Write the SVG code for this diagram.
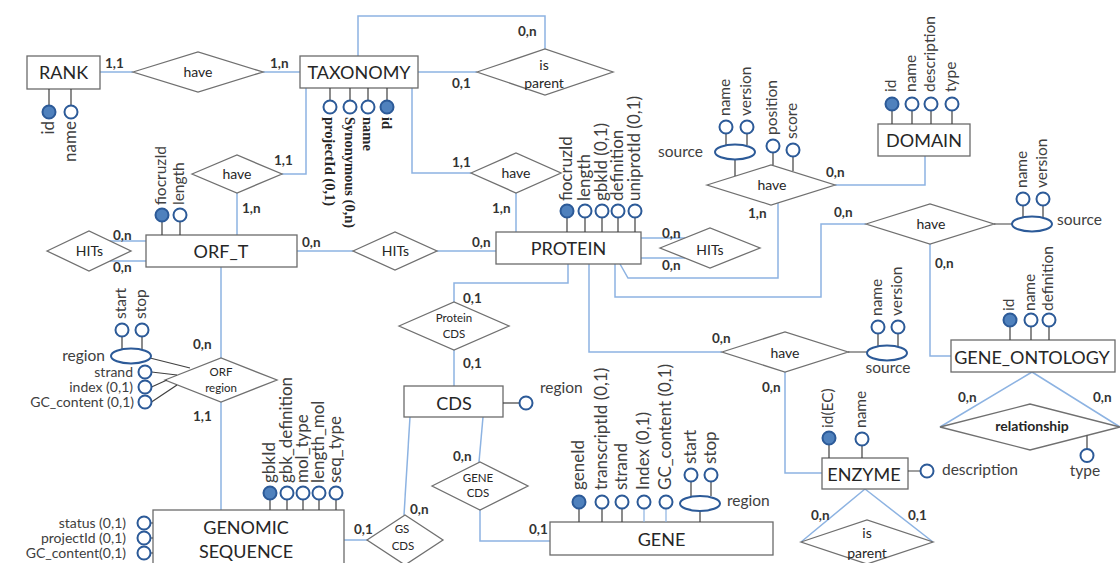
<svg xmlns="http://www.w3.org/2000/svg" width="1120" height="563" viewBox="0 0 1120 563">
<style>
  text { font-family: Lato, "Liberation Sans", sans-serif; fill: #262626; }
  .ent { fill: #fff; stroke: #6b6b6b; stroke-width: 1.3; }
  .rel { fill: #fff; stroke: #707070; stroke-width: 1.3; }
  .conn { fill: none; stroke: #8db3e2; stroke-width: 1.5; }
  .stem { fill: none; stroke: #404040; stroke-width: 1.2; }
  .stemb { fill: none; stroke: #8db3e2; stroke-width: 1.2; }
  .att { fill: #fff; stroke: #2c5a98; stroke-width: 2; }
  .key { fill: #4f81bd; stroke: #2c5a98; stroke-width: 2; }
  .en { font-size: 18px; text-anchor: middle; }
  .rn { font-size: 14px; text-anchor: middle; }
  .rs { font-size: 11.5px; text-anchor: middle; }
  .rb { font-size: 14px; font-weight: bold; text-anchor: middle; }
  .card { font-size: 13.5px; font-weight: bold; fill: #333; }
  .at { font-size: 15.5px; fill: #404040; }
  .al { font-size: 17px; fill: #404040; }
  .as { font-size: 14px; fill: #404040; text-anchor: end; }
  .end { text-anchor: end; }
  .mid { text-anchor: middle; }
  .tx { font-family: "Liberation Serif", serif; font-weight: bold; font-size: 14.5px; fill: #262626; }
</style>

<rect width="1120" height="563" fill="#fff"/>

<!-- connectors between entities and relationships -->
<g id="connectors">
  <path class="conn" d="M100,72 H133"/>
  <path class="conn" d="M263,72 H300"/>
  <path class="conn" d="M418,72 H477"/>
  <path class="conn" d="M358,56 V16 H545 V49"/>
  <path class="conn" d="M306,88 V174 H282"/>
  <path class="conn" d="M237,193 V235"/>
  <path class="conn" d="M412,88 V173 H471"/>
  <path class="conn" d="M516,193 V232"/>
  <path class="conn" d="M297,251 H353"/>
  <path class="conn" d="M437,251 H496"/>
  <path class="conn" d="M146,241 H110"/>
  <path class="conn" d="M146,261 H110"/>
  <path class="conn" d="M641,238 H685"/>
  <path class="conn" d="M641,258 H685"/>
  <path class="conn" d="M620,264 L628,278 H778 V203"/>
  <path class="conn" d="M835,185 H925 V156"/>
  <path class="conn" d="M615,264 V297 H821 V224 H866"/>
  <path class="conn" d="M930,244 V356 H951"/>
  <path class="conn" d="M589,264 V352 H722"/>
  <path class="conn" d="M785,372 V473 H822"/>
  <path class="conn" d="M568,264 V283 H454 V302"/>
  <path class="conn" d="M454,350 V386"/>
  <path class="conn" d="M483,417 L479,462"/>
  <path class="conn" d="M480,510 V541 H550"/>
  <path class="conn" d="M410,417 L404,515"/>
  <path class="conn" d="M344,540 H367"/>
  <path class="conn" d="M221,267 V358"/>
  <path class="conn" d="M221,402 V510"/>
  <path class="conn" d="M1032,372 L940,427 M1032,372 L1120,427"/>
  <path class="conn" d="M865,489 L801,542 M865,489 L933,542"/>
</g>

<!-- cardinalities -->
<g id="cardinalities">
  <text class="card" x="105" y="68">1,1</text>
  <text class="card" x="270" y="68">1,n</text>
  <text class="card" x="518" y="36">0,n</text>
  <text class="card" x="452" y="88">0,1</text>
  <text class="card" x="274" y="165">1,1</text>
  <text class="card" x="242" y="213">1,n</text>
  <text class="card" x="452" y="167">1,1</text>
  <text class="card" x="492" y="213">1,n</text>
  <text class="card" x="113" y="240">0,n</text>
  <text class="card" x="113" y="272">0,n</text>
  <text class="card" x="302" y="247">0,n</text>
  <text class="card" x="472" y="247">0,n</text>
  <text class="card" x="662" y="238">0,n</text>
  <text class="card" x="662" y="270">0,n</text>
  <text class="card" x="748" y="218">1,n</text>
  <text class="card" x="826" y="177">0,n</text>
  <text class="card" x="834" y="217">0,n</text>
  <text class="card" x="935" y="268">0,n</text>
  <text class="card" x="712" y="343">0,n</text>
  <text class="card" x="762" y="392">0,n</text>
  <text class="card" x="463" y="303">0,1</text>
  <text class="card" x="463" y="368">0,1</text>
  <text class="card" x="193" y="349">0,n</text>
  <text class="card" x="193" y="421">1,1</text>
  <text class="card" x="453" y="461">0,n</text>
  <text class="card" x="529" y="534">0,1</text>
  <text class="card" x="410" y="514">0,n</text>
  <text class="card" x="354" y="534">0,1</text>
  <text class="card" x="958" y="402">0,n</text>
  <text class="card" x="1093" y="402">0,n</text>
  <text class="card" x="811" y="520">0,n</text>
  <text class="card" x="908" y="520">0,1</text>
</g>

<!-- entities -->
<g id="rank">
  <rect class="ent" x="27" y="56" width="73" height="33"/>
  <text class="en" x="63.5" y="79">RANK</text>
  <path class="stem" d="M49,89 V105.5 M71,89 V105.5"/>
  <circle class="key" cx="49" cy="112" r="6.5"/>
  <circle class="att" cx="71" cy="112" r="6.5"/>
  <text class="al end" transform="translate(54,121) rotate(-90)">id</text>
  <text class="al end" transform="translate(76,121) rotate(-90)">name</text>
</g>

<g id="taxonomy">
  <rect class="ent" x="300" y="56" width="118" height="32"/>
  <text class="en" x="359" y="79">TAXONOMY</text>
  <path class="stem" d="M330,88 V100.5 M350,88 V100.5 M368,88 V100.5 M387,88 V100.5"/>
  <circle class="att" cx="330" cy="107" r="6.5"/>
  <circle class="att" cx="350" cy="107" r="6.5"/>
  <circle class="att" cx="368" cy="107" r="6.5"/>
  <circle class="key" cx="387" cy="107" r="6.5"/>
  <text class="tx" transform="translate(325,117) rotate(90)">projectId (0,1)</text>
  <text class="tx" transform="translate(345,117) rotate(90)">Synonymous (0,n)</text>
  <text class="tx" transform="translate(363,117) rotate(90)">name</text>
  <text class="tx" transform="translate(382,117) rotate(90)">id</text>
</g>

<g id="domain">
  <rect class="ent" x="878" y="124" width="92" height="32"/>
  <text class="en" x="924" y="147">DOMAIN</text>
  <path class="stem" d="M892,110.5 V124 M912,110.5 V124 M931,110.5 V124 M952,110.5 V124"/>
  <circle class="key" cx="892" cy="104" r="6.5"/>
  <circle class="att" cx="912" cy="104" r="6.5"/>
  <circle class="att" cx="931" cy="104" r="6.5"/>
  <circle class="att" cx="952" cy="104" r="6.5"/>
  <text class="at" transform="translate(896,92) rotate(-90)">id</text>
  <text class="at" transform="translate(916,92) rotate(-90)">name</text>
  <text class="at" transform="translate(935,92) rotate(-90)">description</text>
  <text class="at" transform="translate(956,92) rotate(-90)">type</text>
</g>

<g id="orf_t">
  <rect class="ent" x="146" y="235" width="151" height="32"/>
  <text class="en" x="221" y="258">ORF_T</text>
  <path class="stem" d="M162,221.5 V235 M180,221.5 V235"/>
  <circle class="key" cx="162" cy="215" r="6.5"/>
  <circle class="att" cx="180" cy="215" r="6.5"/>
  <text class="at" transform="translate(166,205) rotate(-90)">fiocruzId</text>
  <text class="at" transform="translate(184,205) rotate(-90)">length</text>
</g>

<g id="protein">
  <rect class="ent" x="496" y="232" width="145" height="32"/>
  <text class="en" x="568.5" y="255">PROTEIN</text>
  <path class="stem" d="M567,217.5 V232 M585,217.5 V232 M602,217.5 V232 M618,217.5 V232 M635,217.5 V232"/>
  <circle class="key" cx="567" cy="211" r="6.5"/>
  <circle class="att" cx="585" cy="211" r="6.5"/>
  <circle class="att" cx="602" cy="211" r="6.5"/>
  <circle class="att" cx="618" cy="211" r="6.5"/>
  <circle class="att" cx="635" cy="211" r="6.5"/>
  <text class="al" transform="translate(572,201) rotate(-90)">fiocruzId</text>
  <text class="al" transform="translate(590,201) rotate(-90)">length</text>
  <text class="al" transform="translate(607,201) rotate(-90)">gbkId (0,1)</text>
  <text class="al" transform="translate(623,201) rotate(-90)">definition</text>
  <text class="al" transform="translate(640,201) rotate(-90)">uniprotId (0,1)</text>
</g>

<g id="cds">
  <rect class="ent" x="404" y="386" width="99" height="31"/>
  <text class="en" x="454" y="410">CDS</text>
  <path class="stem" d="M503,403 H519.5"/>
  <circle class="att" cx="526" cy="403" r="6.5"/>
  <text class="at" x="540" y="393">region</text>
</g>

<g id="gene_ontology">
  <rect class="ent" x="951" y="340" width="164" height="32"/>
  <text class="en" x="1032" y="364">GENE_ONTOLOGY</text>
  <path class="stem" d="M1010,326.5 V340 M1031,326.5 V340 M1049,326.5 V340"/>
  <circle class="key" cx="1010" cy="320" r="6.5"/>
  <circle class="att" cx="1031" cy="320" r="6.5"/>
  <circle class="att" cx="1049" cy="320" r="6.5"/>
  <text class="at" transform="translate(1014,311) rotate(-90)">id</text>
  <text class="at" transform="translate(1035,311) rotate(-90)">name</text>
  <text class="at" transform="translate(1053,311) rotate(-90)">definition</text>
</g>

<g id="enzyme">
  <rect class="ent" x="822" y="458" width="86" height="31"/>
  <text class="en" x="864" y="481">ENZYME</text>
  <path class="stem" d="M829,444.5 V458 M862,445.5 V458 M908,471 H920.5"/>
  <circle class="key" cx="829" cy="438" r="6.5"/>
  <circle class="att" cx="862" cy="439" r="6.5"/>
  <circle class="att" cx="927" cy="471" r="6.5"/>
  <text class="at" transform="translate(833,428) rotate(-90)">id(EC)</text>
  <text class="at" transform="translate(866,428) rotate(-90)">name</text>
  <text class="at" x="942" y="475">description</text>
</g>

<g id="gene">
  <rect class="ent" x="550" y="522" width="223" height="33"/>
  <text class="en" x="661.5" y="546">GENE</text>
  <path class="stem" d="M579,508.5 V522 M602,508.5 V522 M622,508.5 V522 M700,511 V522 M691,481.5 V496 M711,481.5 V496"/>
  <path class="stemb" d="M644,508.5 V522 M666,508.5 V522"/>
  <circle class="key" cx="579" cy="502" r="6.5"/>
  <circle class="att" cx="602" cy="502" r="6.5"/>
  <circle class="att" cx="622" cy="502" r="6.5"/>
  <circle class="att" cx="644" cy="502" r="6.5"/>
  <circle class="att" cx="666" cy="502" r="6.5"/>
  <ellipse class="att" cx="700" cy="503.5" rx="20" ry="7.5"/>
  <circle class="att" cx="691" cy="475" r="6.5"/>
  <circle class="att" cx="711" cy="475" r="6.5"/>
  <text class="al" transform="translate(584,490) rotate(-90)">geneId</text>
  <text class="al" transform="translate(607,490) rotate(-90)">transcriptId (0,1)</text>
  <text class="al" transform="translate(627,490) rotate(-90)">strand</text>
  <text class="al" transform="translate(649,490) rotate(-90)">Index (0,1)</text>
  <text class="al" transform="translate(671,490) rotate(-90)">GC_content (0,1)</text>
  <text class="al" transform="translate(696,464) rotate(-90)">start</text>
  <text class="al" transform="translate(716,464) rotate(-90)">stop</text>
  <text class="at" x="727" y="506">region</text>
</g>

<g id="genomic_sequence">
  <rect class="ent" x="153" y="510" width="191" height="62"/>
  <text class="en" x="246" y="534">GENOMIC</text>
  <text class="en" x="246" y="558">SEQUENCE</text>
  <path class="stem" d="M270,499.5 V510 M287,499.5 V510 M303,499.5 V510 M319,499.5 V510 M336,499.5 V510"/>
  <circle class="key" cx="270" cy="493" r="6.5"/>
  <circle class="att" cx="287" cy="493" r="6.5"/>
  <circle class="att" cx="303" cy="493" r="6.5"/>
  <circle class="att" cx="319" cy="493" r="6.5"/>
  <circle class="att" cx="336" cy="493" r="6.5"/>
  <text class="al" transform="translate(275,483) rotate(-90)">gbkId</text>
  <text class="al" transform="translate(292,483) rotate(-90)">gbk_definition</text>
  <text class="al" transform="translate(308,483) rotate(-90)">mol_type</text>
  <text class="al" transform="translate(324,483) rotate(-90)">length_mol</text>
  <text class="al" transform="translate(341,483) rotate(-90)">seq_type</text>
  <path class="stem" d="M150.5,523 H153 M150.5,538 H153 M150.5,553 H153"/>
  <circle class="att" cx="144" cy="523" r="6.5"/>
  <circle class="att" cx="144" cy="538" r="6.5"/>
  <circle class="att" cx="144" cy="553" r="6.5"/>
  <text class="as" x="126" y="528">status (0,1)</text>
  <text class="as" x="126" y="543">projectId (0,1)</text>
  <text class="as" x="126" y="558">GC_content(0,1)</text>
</g>

<!-- relationships -->
<g id="have_rank_taxonomy">
  <polygon class="rel" points="133,72 198,52 263,72 198,92"/>
  <text class="rn" x="198" y="77">have</text>
</g>

<g id="taxonomy_is_parent">
  <polygon class="rel" points="477,72 545,49 613,72 545,95"/>
  <text class="rn" x="544" y="70">is</text>
  <text class="rn" x="544" y="88">parent</text>
</g>

<g id="have_taxonomy_orf">
  <polygon class="rel" points="192,174 237,155 282,174 237,193"/>
  <text class="rn" x="237" y="179">have</text>
</g>

<g id="have_taxonomy_protein">
  <polygon class="rel" points="471,173 516,153 561,173 516,193"/>
  <text class="rn" x="516" y="178">have</text>
</g>

<g id="hits_orf">
  <polygon class="rel" points="47,251 89,231 131,251 89,271"/>
  <text class="rn" x="89.5" y="256">HITs</text>
</g>

<g id="hits_orf_protein">
  <polygon class="rel" points="353,251 395,232 437,251 395,270"/>
  <text class="rn" x="395.5" y="256">HITs</text>
</g>

<g id="hits_protein">
  <polygon class="rel" points="660,248 710,228 760,248 710,268"/>
  <text class="rn" x="710" y="255">HITs</text>
</g>

<g id="have_protein_domain">
  <polygon class="rel" points="707,185 771,165 835,185 771,205"/>
  <text class="rn" x="772" y="190">have</text>
  <path class="stem" d="M735,159.5 V176 M773,152.5 V165 M793,156.5 V171 M726,133.5 V145 M747,133.5 V145"/>
  <ellipse class="att" cx="735" cy="152" rx="20" ry="7.5"/>
  <circle class="att" cx="726" cy="127" r="6.5"/>
  <circle class="att" cx="747" cy="127" r="6.5"/>
  <circle class="att" cx="773" cy="146" r="6.5"/>
  <circle class="att" cx="793" cy="150" r="6.5"/>
  <text class="at" transform="translate(730,116) rotate(-90)">name</text>
  <text class="at" transform="translate(751,116) rotate(-90)">version</text>
  <text class="at" transform="translate(777,135) rotate(-90)">position</text>
  <text class="at" transform="translate(797,139) rotate(-90)">score</text>
  <text class="at end" x="703" y="157">source</text>
</g>

<g id="have_protein_go">
  <polygon class="rel" points="866,224 930,204 994,224 930,244"/>
  <text class="rn" x="931" y="229">have</text>
  <path class="stem" d="M994,224 H1012 M1023,205.5 V217 M1043,205.5 V217"/>
  <ellipse class="att" cx="1032" cy="224" rx="20" ry="7.5"/>
  <circle class="att" cx="1023" cy="199" r="6.5"/>
  <circle class="att" cx="1043" cy="199" r="6.5"/>
  <text class="at" transform="translate(1027,188) rotate(-90)">name</text>
  <text class="at" transform="translate(1047,188) rotate(-90)">version</text>
  <text class="at" x="1057" y="225">source</text>
</g>

<g id="have_protein_enzyme">
  <polygon class="rel" points="722,352 785,332 848,352 785,372"/>
  <text class="rn" x="785" y="358">have</text>
  <path class="stem" d="M848,352 H867 M878,333.5 V346 M898,333.5 V346"/>
  <ellipse class="att" cx="887" cy="353" rx="20" ry="7.5"/>
  <circle class="att" cx="878" cy="327" r="6.5"/>
  <circle class="att" cx="898" cy="327" r="6.5"/>
  <text class="at" transform="translate(882,316) rotate(-90)">name</text>
  <text class="at" transform="translate(902,316) rotate(-90)">version</text>
  <text class="at mid" x="888" y="373">source</text>
</g>

<g id="relationship">
  <polygon class="rel" points="940,427 1030,404 1120,427 1030,450"/>
  <text class="rb" x="1032" y="431">relationship</text>
  <path class="stem" d="M1087,435.5 V449"/>
  <circle class="att" cx="1087" cy="455.5" r="6.5"/>
  <text class="at mid" x="1085" y="476">type</text>
</g>

<g id="enzyme_is_parent">
  <polygon class="rel" points="801,542 867,520 933,542 867,564"/>
  <text class="rn" x="867" y="538">is</text>
  <text class="rn" x="867" y="558">parent</text>
</g>

<g id="protein_cds">
  <polygon class="rel" points="399,326 454,302 509,326 454,350"/>
  <text class="rs" x="454" y="322">Protein</text>
  <text class="rs" x="454" y="338">CDS</text>
</g>

<g id="orf_region">
  <polygon class="rel" points="165,380 221,358 277,380 221,402"/>
  <text class="rs" x="221" y="376">ORF</text>
  <text class="rs" x="221" y="392">region</text>
  <path class="stem" d="M150,358 L190,368 M151.5,372 L177,375 M151.5,387 L167,380 M151.5,402 L177,385 M122,336.5 V349 M142,336.5 V349"/>
  <ellipse class="att" cx="131" cy="356" rx="20" ry="7.5"/>
  <circle class="att" cx="122" cy="330" r="6.5"/>
  <circle class="att" cx="142" cy="330" r="6.5"/>
  <circle class="att" cx="145" cy="372" r="6.5"/>
  <circle class="att" cx="145" cy="387" r="6.5"/>
  <circle class="att" cx="145" cy="402" r="6.5"/>
  <text class="at" transform="translate(126,319) rotate(-90)">start</text>
  <text class="at" transform="translate(146,319) rotate(-90)">stop</text>
  <text class="at end" x="105" y="361">region</text>
  <text class="as" x="133" y="377">strand</text>
  <text class="as" x="133" y="392">index (0,1)</text>
  <text class="as" x="134" y="407">GC_content (0,1)</text>
</g>

<g id="gene_cds">
  <polygon class="rel" points="432,486 480,462 528,486 480,510"/>
  <text class="rs" x="478" y="482">GENE</text>
  <text class="rs" x="478" y="497">CDS</text>
</g>

<g id="gs_cds">
  <polygon class="rel" points="367,540 405,515 443,540 405,565"/>
  <text class="rs" x="402" y="533">GS</text>
  <text class="rs" x="403" y="550">CDS</text>
</g>
</svg>
